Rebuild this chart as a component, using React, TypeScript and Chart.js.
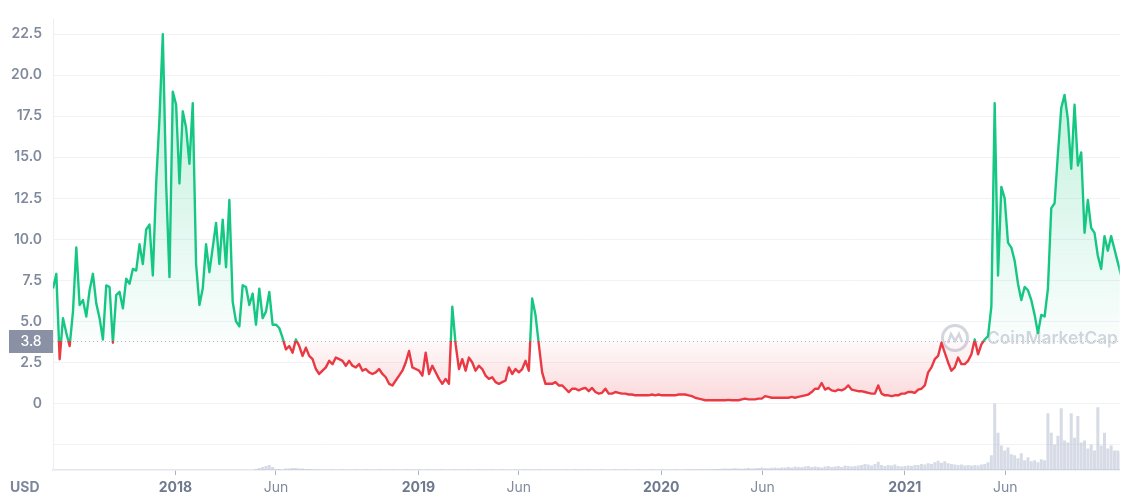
import { useEffect, useRef } from 'react';
import { Chart, registerables } from 'chart.js';

Chart.register(...registerables);

// ---- data ----
const startDate = '2017-07-01';
const stepDays = 5;
const viewStart = '2017-07-01';
const viewEnd = '2021-11-20';
const baseline = 3.8;

const prices = [
  7.0, 7.9, 2.7, 5.2, 4.3, 3.5, 5.6, 9.5, 6.0, 6.3,
  5.3, 6.9, 7.9, 6.1, 5.2, 3.9, 7.2, 7.1, 3.7, 6.6,
  6.8, 5.8, 7.6, 7.3, 8.2, 8.1, 9.7, 8.5, 10.6, 10.9,
  7.8, 13.4, 17.4, 22.5, 13.4, 7.7, 19.0, 18.2, 13.4, 17.8,
  16.8, 14.6, 18.3, 8.5, 6.0, 7.0, 9.7, 8.0, 9.5, 11.0,
  8.5, 11.2, 8.3, 12.4, 6.2, 5.0, 4.7, 7.2, 7.1, 6.0,
  6.7, 4.8, 7.0, 5.2, 5.6, 6.8, 4.8, 4.8, 4.6, 4.0,
  3.3, 3.5, 3.1, 3.9, 3.5, 2.9, 3.4, 2.9, 2.7, 2.1,
  1.8, 2.0, 2.2, 2.6, 2.4, 2.8, 2.7, 2.6, 2.3, 2.6,
  2.3, 2.2, 2.4, 2.0, 2.1, 1.9, 1.8, 1.9, 2.1, 1.8,
  1.6, 1.2, 1.1, 1.4, 1.7, 2.0, 2.5, 3.2, 2.2, 2.1,
  2.0, 1.7, 3.1, 1.8, 2.3, 1.9, 1.5, 1.2, 1.5, 1.2,
  5.9, 3.6, 2.1, 2.7, 2.0, 2.8, 2.5, 2.0, 2.3, 2.1,
  1.7, 1.5, 1.6, 1.3, 1.2, 1.3, 1.4, 2.2, 1.8, 2.1,
  1.9, 2.1, 2.6, 2.0, 6.4, 5.4, 3.6, 1.9, 1.2, 1.2,
  1.2, 1.3, 1.1, 1.1, 0.9, 0.7, 0.9, 0.9, 0.8, 0.9,
  0.95, 0.75, 0.95, 0.7, 0.6, 0.65, 0.9, 0.6, 0.6, 0.7,
  0.65, 0.6, 0.6, 0.55, 0.55, 0.5, 0.5, 0.5, 0.5, 0.5,
  0.55, 0.5, 0.55, 0.5, 0.5, 0.5, 0.5, 0.5, 0.55, 0.55,
  0.55, 0.5, 0.45, 0.35, 0.3, 0.25, 0.2, 0.2, 0.2, 0.2,
  0.2, 0.2, 0.2, 0.22, 0.2, 0.2, 0.2, 0.25, 0.3, 0.25,
  0.25, 0.25, 0.3, 0.3, 0.45, 0.4, 0.35, 0.35, 0.35, 0.35,
  0.35, 0.35, 0.4, 0.35, 0.4, 0.45, 0.5, 0.55, 0.7, 0.9,
  0.9, 1.25, 0.85, 0.95, 0.8, 0.75, 0.85, 0.8, 0.9, 1.1,
  0.85, 0.8, 0.75, 0.75, 0.7, 0.65, 0.6, 0.6, 1.1, 0.6,
  0.5, 0.5, 0.45, 0.5, 0.5, 0.6, 0.6, 0.7, 0.7, 0.65,
  0.85, 0.9, 1.1, 1.9, 2.2, 2.7, 2.9, 3.7, 3.1, 2.5,
  2.0, 2.2, 2.8, 2.4, 2.4, 2.6, 3.0, 3.9, 3.0, 3.6,
  3.9, 4.1, 5.9, 18.3, 7.8, 13.2, 12.5, 9.8, 9.5, 8.7,
  7.3, 6.3, 7.1, 6.9, 6.3, 5.4, 4.3, 5.4, 5.3, 7.0,
  11.9, 12.2, 15.2, 18.0, 18.8, 17.3, 14.3, 18.2, 14.5, 15.3,
  10.4, 12.4, 10.7, 10.4, 9.0, 8.2, 10.2, 9.3, 10.2, 9.4,
  8.6, 7.8,
];

// volume in millions USD
const volumes = [
  0, 0, 0, 0, 0, 0, 0, 0, 0, 0,
  0, 0, 0, 0, 0, 0, 0, 0, 0, 0,
  0, 0, 0, 0, 0, 0, 0, 0, 0, 0,
  0, 0, 0, 0, 0, 0, 0, 0, 0, 0,
  0, 0, 0, 0, 0, 0, 0, 0, 0, 0,
  0, 0, 0, 0, 0, 0, 0, 0, 0, 0,
  0, 10, 20, 30, 40, 50, 30, 10, 10, 5,
  15, 15, 20, 20, 15, 15, 10, 10, 5, 5,
  4, 3, 4, 3, 4, 3, 3, 4, 3, 3,
  3, 4, 3, 3, 4, 3, 3, 3, 4, 3,
  3, 3, 4, 3, 3, 3, 4, 3, 3, 3,
  4, 3, 3, 4, 3, 3, 3, 4, 3, 3,
  3, 4, 3, 3, 3, 4, 3, 3, 4, 3,
  3, 3, 4, 3, 3, 4, 3, 3, 3, 4,
  3, 3, 4, 3, 3, 3, 4, 3, 3, 3,
  4, 3, 3, 3, 4, 3, 3, 4, 3, 3,
  3, 4, 3, 3, 3, 4, 3, 3, 3, 4,
  3, 3, 4, 3, 3, 3, 4, 3, 3, 3,
  4, 3, 3, 4, 3, 3, 3, 4, 3, 3,
  5, 4, 6, 5, 6, 8, 6, 7, 8, 9,
  10, 12, 15, 12, 15, 18, 15, 12, 15, 20,
  15, 18, 20, 25, 20, 18, 22, 25, 20, 25,
  25, 30, 25, 35, 30, 28, 35, 40, 30, 35,
  30, 25, 35, 40, 30, 35, 40, 30, 45, 40,
  35, 40, 45, 50, 60, 55, 45, 60, 85, 50,
  40, 50, 45, 55, 40, 35, 40, 45, 40, 50,
  50, 60, 55, 70, 60, 80, 95, 75, 90, 70,
  60, 55, 50, 55, 45, 50, 45, 50, 45, 55,
  60, 80, 150, 680, 380, 250, 200, 230, 160, 150,
  120, 170, 100, 130, 90, 100, 80, 110, 100, 580,
  380, 260, 350, 630, 300, 280, 580, 330, 550, 280,
  300, 220, 260, 200, 640, 250, 380, 220, 250, 200,
  200, 180,
];

const yTickValues = [-2.5, 0, 2.5, 5, 7.5, 10, 12.5, 15, 17.5, 20, 22.5];
const xTickDates = ['2018-01-01', '2018-06-01', '2019-01-01', '2019-06-01', '2020-01-01', '2020-06-01', '2021-01-01', '2021-06-01'];
const xTickLabels = ['2018', 'Jun', '2019', 'Jun', '2020', 'Jun', '2021', 'Jun'];

const GREEN = '#16c784';
const RED = '#ea3943';
const FONT = 'Inter, "Noto Sans", sans-serif';

const dayOf = (s: string) => {
  const [y, m, d] = s.split('-').map(Number);
  return Date.UTC(y, m - 1, d) / 86400000;
};

export default function App() {
  const ref = useRef<HTMLCanvasElement | null>(null);

  useEffect(() => {
    const canvas = ref.current;
    if (!canvas) return;
    const ctx = canvas.getContext('2d')!;
    const start = dayOf(startDate);
    const priceData = prices.map((v, i) => ({ x: start + i * stepDays, y: v }));
    const volData = volumes.map((v, i) => ({ x: start + i * stepDays, y: v }));
    const xTickDays = xTickDates.map(dayOf);
    const maxVol = Math.max(...volumes);

    const overlay = {
      id: 'overlay',
      beforeDatasetsDraw(chart: any) {
        const { ctx: c, chartArea: a, scales } = chart;
        const yb = Math.round(scales.y.getPixelForValue(baseline)) + 0.5;
        c.save();
        // watermark
        c.globalAlpha = 0.38;
        c.strokeStyle = '#8a94aa';
        c.fillStyle = '#8a94aa';
        c.lineWidth = 3;
        const cx = 955, cy = 338;
        c.beginPath();
        c.arc(cx, cy, 12.5, 0, Math.PI * 2);
        c.stroke();
        c.lineWidth = 2.5;
        c.beginPath();
        c.moveTo(cx - 7, cy + 5);
        c.lineTo(cx - 4, cy - 4);
        c.lineTo(cx, cy + 3);
        c.lineTo(cx + 4, cy - 4);
        c.lineTo(cx + 7, cy + 4);
        c.stroke();
        let size = 19;
        c.font = `600 ${size}px ${FONT}`;
        const w = c.measureText('CoinMarketCap').width;
        size = (size * 131) / w;
        c.font = `600 ${size}px ${FONT}`;
        c.textBaseline = 'middle';
        c.textAlign = 'left';
        c.fillText('CoinMarketCap', 987, 339);
        c.globalAlpha = 1;
        // baseline dotted
        c.strokeStyle = '#b8bdc8';
        c.lineWidth = 1;
        c.setLineDash([1, 3]);
        c.beginPath();
        c.moveTo(a.left, yb);
        c.lineTo(a.right, yb);
        c.stroke();
        c.restore();
      },
      afterDraw(chart: any) {
        const { ctx: c, scales } = chart;
        const yb = scales.y.getPixelForValue(baseline);
        c.save();
        c.fillStyle = '#8a91a5';
        c.fillRect(9, Math.round(yb - 11.5), 44, 23);
        c.fillStyle = '#ffffff';
        c.font = `500 14px ${FONT}`;
        c.textAlign = 'center';
        c.textBaseline = 'middle';
        c.fillText(String(baseline), 31, yb + 0.5);
        c.fillStyle = '#7d879b';
        c.font = `700 14px ${FONT}`;
        c.textAlign = 'left';
        c.fillText('USD', 10, 488);
        c.restore();
      },
    };

    const chart = new Chart(ctx, {
      type: 'line',
      data: {
        datasets: [
          {
            type: 'line',
            data: priceData,
            borderColor: GREEN,
            borderWidth: 2.4,
            borderJoinStyle: 'round',
            pointRadius: 0,
            tension: 0,
            fill: { target: { value: baseline }, above: 'rgba(22,199,132,0.1)', below: 'rgba(234,57,67,0.1)' },
            yAxisID: 'y',
            order: 0,
          } as any,
          {
            type: 'bar',
            data: volData,
            backgroundColor: 'rgba(180,190,210,0.55)',
            borderWidth: 0,
            barPercentage: 1,
            categoryPercentage: 0.9,
            yAxisID: 'yv',
            order: 1,
          } as any,
        ],
      },
      options: {
        responsive: false,
        animation: false,
        devicePixelRatio: 1,
        layout: { padding: { top: 10, right: 1, bottom: 0, left: 0 } },
        plugins: { legend: { display: false }, tooltip: { enabled: false } },
        scales: {
          x: {
            type: 'linear',
            min: dayOf(viewStart),
            max: dayOf(viewEnd),
            offset: false,
            afterBuildTicks: (s: any) => {
              s.ticks = xTickDays.map((v) => ({ value: v }));
            },
            afterFit: (s: any) => {
              s.height = 28;
            },
            grid: { display: true, offset: false, drawOnChartArea: false, drawTicks: true, tickLength: 5, color: '#aab1c0' },
            border: { display: true, color: '#e3e6ee', width: 1.5 },
            ticks: {
              autoSkip: false,
              maxRotation: 0,
              padding: 4,
              callback: (_v: any, i: number) => xTickLabels[i],
              color: (c: any) => (/^\d/.test(xTickLabels[c.index] || '') ? '#6f7a8f' : '#808a9d'),
              font: (c: any) => ({ family: FONT, size: 14, weight: /^\d/.test(xTickLabels[c.index] || '') ? '700' : '400' }),
            },
          },
          y: {
            type: 'linear',
            position: 'left',
            min: -4.05,
            max: 23.4,
            afterBuildTicks: (s: any) => {
              s.ticks = yTickValues.map((v) => ({ value: v }));
            },
            afterFit: (s: any) => {
              s.width = 53;
            },
            grid: { color: '#f1f2f5', drawTicks: false },
            border: { display: true, color: '#eceef2' },
            ticks: {
              padding: 11,
              color: '#808a9d',
              font: { family: FONT, size: 14, weight: '600' },
              callback: (v: any) => (v < 0 ? '' : v === 0 ? '0' : Number(v).toFixed(1)),
            },
          },
          yv: {
            type: 'linear',
            display: false,
            min: 0,
            max: (maxVol * 460) / 68,
          },
        },
      },
      plugins: [overlay],
    } as any);

    // gradients based on computed layout
    const area = chart.chartArea;
    const ys = chart.scales.y;
    const yb = ys.getPixelForValue(baseline);
    const y0 = ys.getPixelForValue(0);
    const g = ctx.createLinearGradient(0, area.top, 0, yb);
    g.addColorStop(0, 'rgba(22,199,132,0.32)');
    g.addColorStop(1, 'rgba(22,199,132,0.02)');
    const r = ctx.createLinearGradient(0, yb, 0, y0);
    r.addColorStop(0, 'rgba(234,57,67,0.03)');
    r.addColorStop(1, 'rgba(234,57,67,0.2)');
    const stroke = ctx.createLinearGradient(0, area.top, 0, area.bottom);
    const f = (yb - area.top) / (area.bottom - area.top);
    stroke.addColorStop(0, GREEN);
    stroke.addColorStop(f, GREEN);
    stroke.addColorStop(f, RED);
    stroke.addColorStop(1, RED);
    const ds: any = chart.data.datasets[0];
    ds.borderColor = stroke;
    ds.fill = { target: { value: baseline }, above: g, below: r };
    chart.update('none');

    return () => chart.destroy();
  }, []);

  return (
    <div style={{ position: 'absolute', left: 0, top: 0, width: 1121, height: 498, background: '#fff' }}>
      <canvas ref={ref} width={1121} height={498} style={{ display: 'block', width: 1121, height: 498 }} />
    </div>
  );
}
